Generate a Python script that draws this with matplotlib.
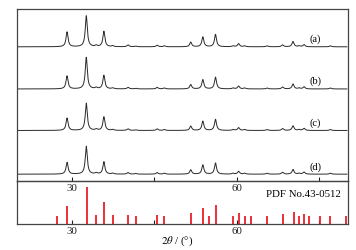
import numpy as np
import matplotlib
matplotlib.use("Agg")
import matplotlib.pyplot as plt

plt.rcParams['font.family'] = ['Liberation Serif', 'DejaVu Serif']
plt.rcParams['mathtext.fontset'] = 'stix'

# Measured pattern peaks (2theta, relative intensity)
peak_pos = [29.1, 32.6, 34.4, 35.8, 37.4, 40.2, 41.6, 45.5, 46.8, 51.6, 53.8,
            56.1, 59.3, 60.3, 61.4, 65.5, 68.3, 70.2, 71.3, 72.2, 77.0]
peak_int_a = [48, 100, 4, 50, 3, 6, 2, 5, 3, 15, 32, 40, 3, 10, 3, 3, 6, 17, 3, 7, 3]
peak_int_b = [42, 102, 4, 44, 3, 5, 2, 5, 3, 14, 30, 38, 3, 9, 3, 3, 6, 16, 3, 7, 3]
peak_int_c = [40, 88, 4, 44, 3, 5, 2, 5, 3, 14, 30, 36, 3, 9, 3, 3, 6, 15, 3, 7, 3]
peak_int_d = [38, 90, 4, 40, 3, 5, 2, 5, 3, 14, 30, 36, 3, 9, 3, 3, 6, 15, 3, 7, 3]
sample_labels = ['(a)', '(b)', '(c)', '(d)']
offsets = [433, 297, 163, 22]

# Standard card PDF No.43-0512 lines
ref_pos = [27.2, 29.1, 32.7, 34.4, 35.9, 37.4, 40.2, 41.6, 45.5, 46.8, 51.6, 53.9,
           55.0, 56.2, 59.3, 60.4, 61.4, 62.5, 65.5, 68.4, 70.4, 71.3, 72.2, 73.1,
           75.1, 77.0, 79.8]
ref_int = [22, 49, 100, 24, 59, 24, 24, 22, 25, 21, 30, 43, 21, 51, 21, 30, 21, 21,
           21, 28, 32, 21, 26, 21, 21, 21, 21]
card_label = 'PDF No.43-0512'

W, H = 356, 251
fig = plt.figure(figsize=(W / 100, H / 100), dpi=100)
left, right = 17 / W, 348 / W
ax1 = fig.add_axes([left, 1 - 182 / H, right - left, (182 - 10) / H])
ax2 = fig.add_axes([left, 1 - 225 / H, right - left, (225 - 182) / H])

x = np.linspace(20, 80, 3000)
gam = 0.22
for ints, off, lab in zip([peak_int_a, peak_int_b, peak_int_c, peak_int_d], offsets, sample_labels):
    y = np.zeros_like(x)
    for p, i in zip(peak_pos, ints):
        y += i * gam**2 / ((x - p)**2 + gam**2)
    ax1.plot(x, y + off, color='#2a2a2a', lw=0.7)
    ax1.text(74.2, off + 27, lab, fontsize=7.5, ha='center', va='center')

ax2.vlines(ref_pos, 0, ref_int, color='#e8202a', lw=1.3)
ax2.text(78.9, 0.70, card_label, transform=ax2.get_xaxis_transform(), fontsize=7.8,
         ha='right', va='center')

for ax in (ax1, ax2):
    ax.set_xlim(20, 80.2)
    ax.set_xticks([30, 60])
    ax.set_xticks([45, 75], minor=True)
    ax.tick_params(axis='x', which='both', direction='in', length=3, width=0.8,
                   labelsize=7.8, pad=1.5, colors='#222222')
    ax.tick_params(axis='y', which='both', left=False, labelleft=False)
    for s in ax.spines.values():
        s.set_color('#444444')
        s.set_linewidth(0.9)
ax1.set_ylim(0, 555)
ax2.set_ylim(0, 116)
ax1.set_zorder(3)
ax1.patch.set_alpha(0)

fig.text(177 / W, 1 - 241 / H, r'$\mathit{2\theta}$ / (°)', fontsize=7.8,
         ha='center', va='center')

fig.savefig('out.png', dpi=100)
